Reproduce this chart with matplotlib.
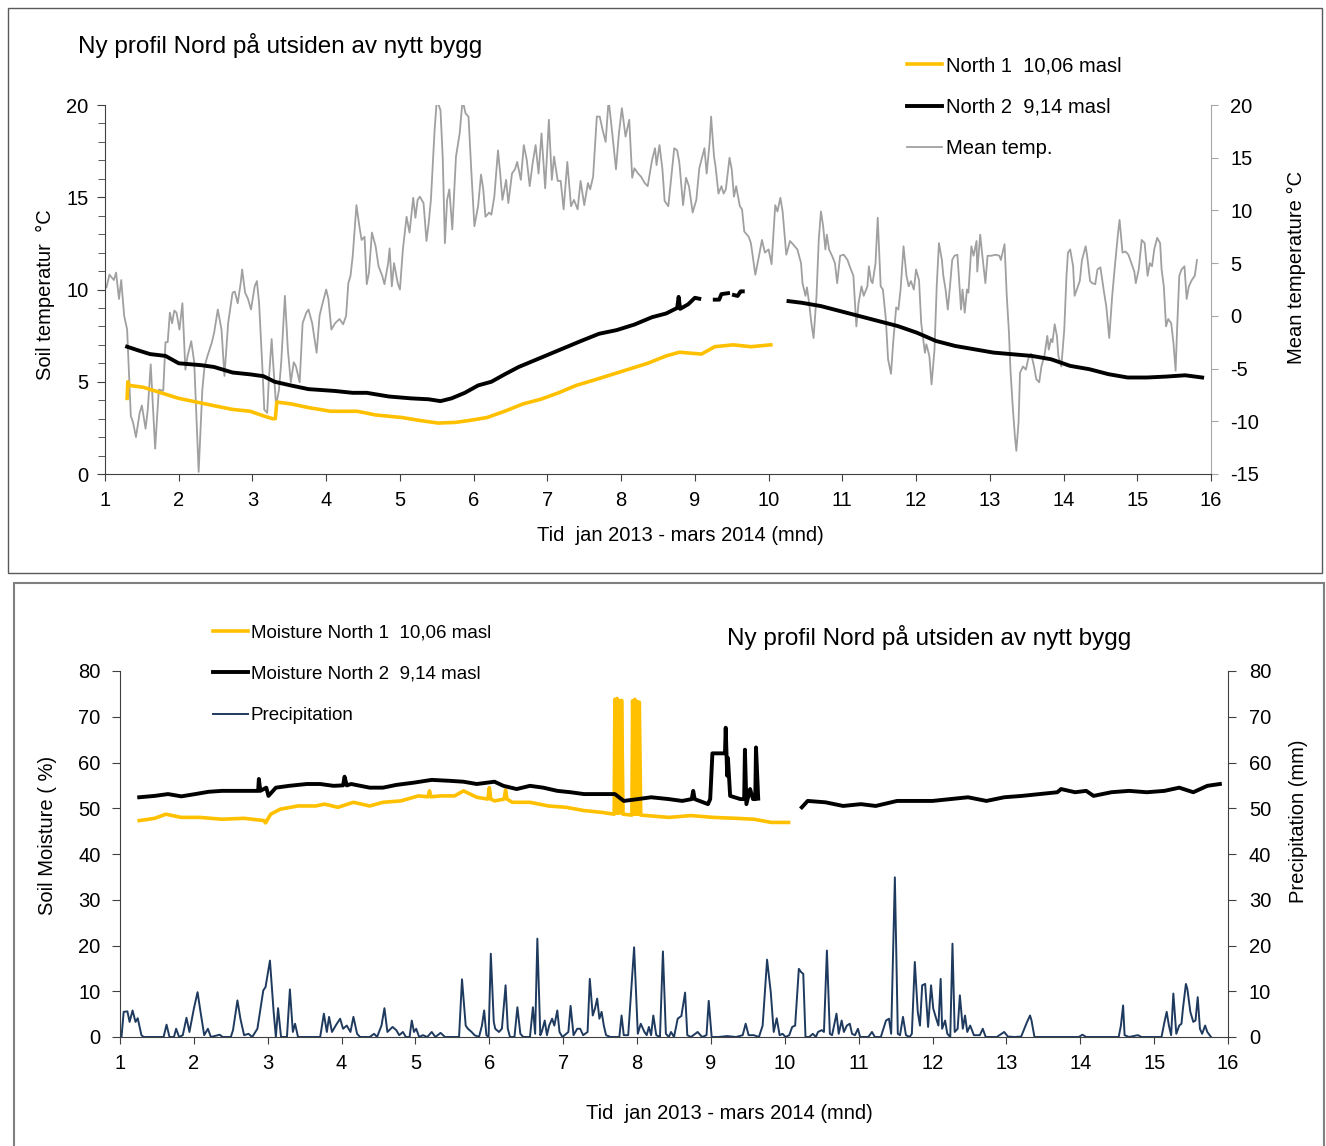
import matplotlib.pyplot as plt
from matplotlib.patches import Rectangle
from matplotlib.ticker import MultipleLocator
import numpy as np

plt.rcParams['font.family'] = ['Liberation Sans', 'DejaVu Sans']
plt.rcParams['axes.unicode_minus'] = False

FS = 14.5
YELLOW = '#FFC000'
GREY = '#A0A0A0'
NAVY = '#1F3A5F'
DARK = '#404040'

TITLE = 'Ny profil Nord på utsiden av nytt bygg'
XLABEL = 'Tid  jan 2013 - mars 2014 (mnd)'
gap = (np.nan, np.nan)

# month (1 = jan 2013), daily mean air temperature (deg C)
mean_temp = [
    (1.02, 2.7), (1.06, 3.9), (1.12, 3.4), (1.15, 4.1), (1.19, 1.6), (1.22, 3.4), (1.26, 0.0), (1.30, -1.3),
    (1.35, -9.5), (1.38, -10.1), (1.42, -11.5), (1.47, -9.2), (1.50, -8.5), (1.55, -10.7), (1.58, -8.9),
    (1.62, -4.6), (1.68, -12.6), (1.73, -7.0), (1.79, -7.1), (1.82, -2.5), (1.85, -2.5), (1.88, 0.3),
    (1.91, -0.7), (1.94, 0.5), (1.97, 0.3), (2.01, -1.3), (2.05, 1.2), (2.09, -5.1), (2.12, -3.8),
    (2.17, -2.4), (2.21, -4.4), (2.24, -9.5), (2.27, -14.8), (2.32, -7.0), (2.35, -4.8), (2.39, -3.8),
    (2.45, -2.5), (2.48, -1.6), (2.53, 0.6), (2.58, -1.3), (2.62, -5.7), (2.67, -0.7), (2.73, 2.2),
    (2.76, 2.3), (2.80, 1.2), (2.84, 3.1), (2.86, 4.4), (2.90, 2.2), (2.94, 1.6), (2.98, 0.6), (3.03, 2.8),
    (3.06, 3.3), (3.09, 1.2), (3.14, -5.7), (3.16, -8.9), (3.20, -9.2), (3.22, -6.3), (3.26, -2.2),
    (3.28, -4.4), (3.32, -8.5), (3.36, -7.0), (3.39, -4.4), (3.44, 1.9), (3.48, -3.2), (3.52, -6.3),
    (3.56, -4.4), (3.59, -4.8), (3.64, -6.3), (3.68, -0.7), (3.73, 0.3), (3.76, 0.6), (3.81, -0.7),
    (3.87, -3.5), (3.91, 0.0), (3.94, 0.9), (4.00, 2.5), (4.03, 1.6), (4.07, -1.3), (4.12, -0.7),
    (4.18, -0.3), (4.23, -0.8), (4.27, 0.0), (4.30, 3.1), (4.33, 3.8), (4.36, 5.7), (4.41, 10.5),
    (4.45, 8.5), (4.48, 7.2), (4.52, 7.5), (4.55, 3.0), (4.58, 4.1), (4.62, 7.9), (4.67, 6.6), (4.71, 4.7),
    (4.76, 3.8), (4.79, 3.0), (4.84, 5.0), (4.86, 6.4), (4.89, 2.8), (4.92, 5.0), (4.97, 3.1), (5.00, 2.5),
    (5.04, 6.3), (5.09, 9.4), (5.13, 7.9), (5.18, 11.2), (5.21, 9.3), (5.24, 11.0), (5.27, 11.3),
    (5.32, 10.7), (5.36, 7.1), (5.39, 8.8), (5.42, 11.0), (5.47, 17.6), (5.50, 20.5), (5.55, 19.5),
    (5.58, 15.1), (5.61, 6.9), (5.64, 11.0), (5.67, 12.0), (5.71, 8.2), (5.76, 15.1), (5.81, 17.3),
    (5.85, 20.5), (5.89, 19.2), (5.93, 18.9), (5.97, 13.5), (6.01, 8.5), (6.06, 10.4), (6.10, 13.4),
    (6.13, 12.0), (6.16, 9.4), (6.21, 9.8), (6.24, 9.6), (6.28, 11.3), (6.33, 15.7), (6.36, 13.5),
    (6.39, 11.0), (6.44, 12.9), (6.47, 10.7), (6.52, 13.5), (6.56, 13.9), (6.59, 14.6), (6.64, 12.9),
    (6.68, 16.2), (6.72, 14.8), (6.76, 12.3), (6.80, 14.5), (6.84, 16.2), (6.88, 13.5), (6.92, 17.3),
    (6.97, 12.1), (7.02, 18.6), (7.06, 12.9), (7.09, 15.1), (7.14, 12.8), (7.18, 12.8), (7.22, 10.1),
    (7.27, 14.6), (7.32, 10.4), (7.36, 11.0), (7.41, 10.1), (7.45, 12.8), (7.50, 10.5), (7.55, 12.6),
    (7.58, 12.0), (7.62, 13.2), (7.67, 18.9), (7.71, 18.9), (7.75, 17.6), (7.79, 16.5), (7.83, 20.5),
    (7.88, 17.3), (7.93, 13.9), (7.97, 17.3), (8.01, 19.7), (8.06, 17.0), (8.11, 18.6), (8.15, 13.1),
    (8.18, 14.0), (8.23, 13.5), (8.27, 13.2), (8.32, 12.6), (8.36, 12.3), (8.42, 14.8), (8.46, 15.9),
    (8.48, 14.3), (8.52, 16.2), (8.56, 13.9), (8.59, 10.9), (8.64, 10.4), (8.68, 13.2), (8.72, 15.9),
    (8.76, 15.7), (8.79, 14.5), (8.84, 10.5), (8.88, 13.1), (8.92, 12.3), (8.97, 9.8), (9.02, 11.0),
    (9.06, 14.0), (9.10, 15.1), (9.13, 15.9), (9.16, 13.5), (9.20, 16.4), (9.22, 18.9), (9.26, 15.1),
    (9.28, 14.2), (9.32, 11.6), (9.36, 12.3), (9.39, 11.6), (9.42, 12.0), (9.47, 15.0), (9.50, 13.9),
    (9.53, 11.3), (9.56, 12.3), (9.61, 10.4), (9.64, 10.1), (9.67, 8.0), (9.73, 7.5), (9.76, 6.9),
    (9.82, 3.9), (9.87, 5.7), (9.91, 7.2), (9.95, 6.0), (10.00, 6.3), (10.04, 4.9), (10.09, 10.5),
    (10.12, 9.9), (10.16, 11.2), (10.19, 9.9), (10.24, 5.8), (10.29, 7.1), (10.33, 6.8), (10.39, 6.3),
    (10.44, 5.0), (10.46, 3.1), (10.50, 1.9), (10.52, 2.7), (10.55, 1.2), (10.58, -0.7), (10.61, -2.1),
    (10.65, 1.9), (10.68, 7.2), (10.71, 9.9), (10.74, 8.5), (10.77, 6.3), (10.79, 7.7), (10.82, 6.3),
    (10.86, 5.7), (10.90, 5.0), (10.93, 3.1), (10.97, 5.7), (11.02, 5.8), (11.07, 5.3), (11.10, 4.7),
    (11.15, 3.8), (11.19, -1.0), (11.22, 1.2), (11.26, 2.8), (11.29, 1.9), (11.34, 2.8), (11.36, 4.7),
    (11.39, 3.3), (11.41, 3.1), (11.45, 5.0), (11.48, 9.3), (11.52, 2.8), (11.55, 2.5), (11.59, -0.3),
    (11.62, -4.1), (11.66, -5.5), (11.69, -2.5), (11.73, 0.8), (11.76, 0.6), (11.79, 2.5), (11.83, 6.6),
    (11.87, 3.8), (11.90, 2.8), (11.93, 3.3), (11.97, 2.5), (12.00, 4.4), (12.04, 3.4), (12.07, -0.7),
    (12.12, -3.5), (12.14, -2.7), (12.18, -3.8), (12.21, -6.5), (12.25, -3.2), (12.28, 2.8), (12.31, 6.9),
    (12.35, 5.3), (12.37, 3.8), (12.40, 2.5), (12.43, 0.6), (12.46, 2.8), (12.49, 5.3), (12.52, 5.7),
    (12.56, 5.8), (12.58, 3.8), (12.61, 0.6), (12.63, 2.5), (12.66, 0.3), (12.69, 2.5), (12.71, 2.2),
    (12.75, 6.6), (12.78, 5.7), (12.82, 7.1), (12.83, 4.2), (12.87, 7.7), (12.89, 6.3), (12.94, 3.1),
    (12.97, 5.7), (13.02, 5.7), (13.08, 5.8), (13.13, 5.7), (13.15, 5.3), (13.20, 6.8), (13.23, 1.9),
    (13.26, -1.6), (13.28, -5.1), (13.31, -8.5), (13.34, -11.4), (13.36, -12.8), (13.39, -10.1),
    (13.41, -5.4), (13.45, -4.8), (13.49, -5.1), (13.52, -4.1), (13.56, -3.6), (13.60, -4.8), (13.63, -6.0),
    (13.67, -6.3), (13.70, -4.8), (13.74, -3.8), (13.78, -1.9), (13.80, -3.2), (13.83, -2.2), (13.85, -2.5),
    (13.88, -0.8), (13.91, -1.9), (13.93, -3.8), (13.97, -4.8), (14.01, -1.3), (14.04, 3.8), (14.06, 6.0),
    (14.09, 6.3), (14.13, 4.7), (14.15, 1.9), (14.18, 2.5), (14.22, 3.3), (14.25, 5.3), (14.30, 6.6),
    (14.32, 5.7), (14.36, 3.3), (14.39, 3.1), (14.43, 3.0), (14.46, 4.4), (14.50, 4.6), (14.55, 2.2),
    (14.58, 0.9), (14.62, -2.1), (14.66, 1.9), (14.70, 5.0), (14.74, 7.9), (14.76, 9.1), (14.80, 6.0),
    (14.84, 6.1), (14.88, 5.8), (14.92, 5.0), (14.96, 4.2), (14.98, 3.1), (15.02, 4.4), (15.06, 7.2),
    (15.10, 6.9), (15.14, 3.8), (15.17, 5.0), (15.20, 4.7), (15.23, 6.3), (15.27, 7.4), (15.31, 6.9),
    (15.33, 4.4), (15.36, 2.8), (15.39, -1.0), (15.42, -0.3), (15.46, -0.7), (15.49, -2.5), (15.52, -5.2),
    (15.54, -1.3), (15.57, 3.8), (15.60, 4.4), (15.64, 4.7), (15.67, 1.6), (15.70, 2.8), (15.74, 3.4),
    (15.78, 3.8), (15.81, 5.3),
]

# soil temperature (deg C)
soil_north1 = [
    (1.30, 4.1), (1.31, 5.0), (1.33, 4.8), (1.52, 4.7), (1.76, 4.4), (2.00, 4.1), (2.24, 3.9), (2.48, 3.7),
    (2.73, 3.5), (2.97, 3.4), (3.15, 3.15), (3.27, 3.0), (3.31, 3.0), (3.33, 3.9), (3.52, 3.8), (3.76, 3.6),
    (4.06, 3.4), (4.42, 3.4), (4.67, 3.2), (5.03, 3.06), (5.27, 2.9), (5.52, 2.76), (5.76, 2.8), (5.94, 2.9),
    (6.18, 3.06), (6.42, 3.4), (6.67, 3.8), (6.91, 4.05), (7.15, 4.4), (7.39, 4.8), (7.64, 5.1), (7.88, 5.4),
    (8.12, 5.7), (8.36, 6.0), (8.61, 6.4), (8.79, 6.6), (9.09, 6.5), (9.27, 6.9), (9.52, 7.0), (9.76, 6.9),
    (10.03, 7.0),
]
soil_north2 = [
    (1.30, 6.9), (1.45, 6.7), (1.61, 6.5), (1.82, 6.4), (2.00, 6.0), (2.30, 5.9), (2.48, 5.8), (2.73, 5.5),
    (2.97, 5.4), (3.15, 5.3), (3.30, 5.0), (3.52, 4.8), (3.76, 4.6), (4.12, 4.5), (4.36, 4.4), (4.55, 4.4),
    (4.85, 4.2), (5.15, 4.1), (5.39, 4.05), (5.55, 3.95), (5.70, 4.1), (5.88, 4.4), (6.06, 4.8), (6.24, 5.0),
    (6.42, 5.4), (6.61, 5.8), (6.79, 6.1), (6.97, 6.4), (7.21, 6.8), (7.45, 7.2), (7.70, 7.6), (7.94, 7.8),
    (8.18, 8.1), (8.42, 8.5), (8.61, 8.7), (8.76, 9.0), (8.78, 9.6), (8.80, 8.95), (8.91, 9.2), (9.00, 9.55),
    (9.06, 9.5), gap,
    (9.27, 9.45), (9.33, 9.45), (9.36, 9.75), (9.45, 9.8), gap,
    (9.53, 9.7), (9.58, 9.65), (9.62, 9.9), (9.65, 9.9), gap,
    (10.27, 9.37), (10.45, 9.28), (10.71, 9.1), (10.97, 8.83), (11.23, 8.56), (11.49, 8.29), (11.75, 8.02),
    (12.01, 7.66), (12.27, 7.21), (12.53, 6.94), (12.79, 6.76), (13.05, 6.58), (13.31, 6.49), (13.57, 6.40),
    (13.83, 6.22), (14.09, 5.86), (14.35, 5.68), (14.61, 5.41), (14.87, 5.23), (15.13, 5.23), (15.39, 5.28),
    (15.65, 5.35), (15.88, 5.23),
]

# soil moisture (%)
moist_north1 = [
    (1.26, 47.3), (1.47, 47.8), (1.62, 48.7), (1.83, 48.0), (2.08, 48.0), (2.38, 47.6), (2.68, 47.8),
    (2.95, 47.3), (2.97, 46.8), (3.04, 48.7), (3.17, 49.8), (3.41, 50.5), (3.65, 50.5), (3.77, 50.9),
    (3.95, 50.2), (4.16, 51.3), (4.38, 50.5), (4.56, 51.3), (4.80, 51.6), (5.04, 52.7), (5.17, 52.5),
    (5.19, 53.8), (5.21, 52.5), (5.34, 52.7), (5.53, 52.7), (5.65, 53.8), (5.83, 52.4), (5.98, 52.0),
    (6.00, 54.5), (6.02, 52.0), (6.07, 51.6), (6.20, 52.0), (6.22, 54.0), (6.24, 52.0), (6.31, 51.3),
    (6.55, 51.3), (6.80, 50.5), (7.04, 50.2), (7.28, 49.5), (7.52, 49.1), (7.69, 48.7), (7.70, 73.8),
    (7.72, 48.9), (7.73, 74.0), (7.75, 48.9), (7.76, 73.5), (7.78, 49.0), (7.79, 73.6), (7.81, 48.7),
    (7.93, 48.5), (7.94, 73.5), (7.96, 48.7), (7.97, 73.8), (7.99, 48.7), (8.00, 73.3), (8.02, 48.7),
    (8.03, 73.2), (8.05, 48.5), (8.13, 48.4), (8.43, 48.0), (8.73, 48.4), (9.03, 48.0), (9.34, 47.8),
    (9.58, 47.6), (9.82, 46.9), (10.05, 46.9),
]
moist_north2 = [
    (1.26, 52.4), (1.47, 52.7), (1.65, 53.1), (1.83, 52.6), (2.02, 53.1), (2.20, 53.6), (2.38, 53.8),
    (2.62, 53.8), (2.80, 53.8), (2.87, 53.8), (2.88, 56.4), (2.90, 53.8), (2.98, 54.5), (3.01, 52.7),
    (3.11, 54.5), (3.29, 54.9), (3.53, 55.3), (3.71, 55.3), (3.89, 54.9), (4.02, 55.0), (4.04, 56.9),
    (4.07, 55.0), (4.13, 55.3), (4.38, 54.5), (4.56, 54.5), (4.74, 55.1), (4.98, 55.6), (5.22, 56.2),
    (5.46, 56.0), (5.65, 55.8), (5.83, 55.3), (6.07, 55.8), (6.19, 54.9), (6.37, 54.2), (6.55, 54.9),
    (6.73, 54.5), (6.92, 53.8), (7.10, 53.5), (7.28, 53.1), (7.52, 53.1), (7.70, 53.1), (7.82, 51.6),
    (8.01, 52.0), (8.19, 52.4), (8.43, 52.0), (8.61, 51.6), (8.74, 52.0), (8.76, 53.8), (8.78, 52.0),
    (8.96, 50.9), (8.99, 52.0), (9.02, 62.0), (9.19, 62.0), (9.20, 67.6), (9.22, 57.1), (9.23, 61.0),
    (9.26, 52.7), (9.40, 52.0), (9.45, 52.0), (9.46, 62.8), (9.48, 50.9), (9.53, 54.2), (9.57, 52.0),
    (9.60, 52.0), (9.61, 63.3), (9.64, 52.1), gap,
    (10.23, 50.2), (10.31, 51.6), (10.55, 51.3), (10.79, 50.5), (11.03, 50.9), (11.23, 50.5), (11.52, 51.6),
    (11.76, 51.6), (12.00, 51.6), (12.24, 52.0), (12.48, 52.4), (12.73, 51.6), (12.97, 52.4), (13.21, 52.7),
    (13.45, 53.1), (13.69, 53.5), (13.74, 54.2), (13.93, 53.5), (14.08, 53.8), (14.18, 52.7), (14.42, 53.5),
    (14.66, 53.8), (14.90, 53.5), (15.14, 53.8), (15.34, 54.5), (15.53, 53.5), (15.72, 54.9), (15.89, 55.3),
]

# precipitation (mm)
precip = [
    (1.00, 0), (1.02, 0), (1.05, 5.5), (1.10, 5.6), (1.13, 3.3), (1.17, 5.8), (1.21, 3.3), (1.24, 4.1),
    (1.29, 0.4), (1.32, 0), (1.59, 0), (1.63, 2.7), (1.67, 0), (1.73, 0), (1.76, 1.8), (1.80, 0), (1.85, 0.4),
    (1.90, 4.2), (1.94, 1.1), (2.00, 6.2), (2.05, 9.8), (2.09, 5.5), (2.14, 0.4), (2.19, 1.8), (2.23, 0),
    (2.35, 0.5), (2.39, 0), (2.50, 0), (2.53, 1.5), (2.59, 8.0), (2.63, 4.0), (2.68, 0.4), (2.74, 0.7),
    (2.79, 0), (2.86, 1.8), (2.94, 10.2), (2.97, 10.9), (3.03, 16.7), (3.08, 5.5), (3.11, 0), (3.14, 6.3),
    (3.18, 0), (3.26, 0), (3.30, 10.4), (3.34, 1.1), (3.37, 2.9), (3.41, 0), (3.71, 0), (3.76, 5.1),
    (3.80, 1.1), (3.83, 4.4), (3.87, 1.1), (3.92, 2.5), (3.98, 4.0), (4.02, 1.8), (4.07, 2.5), (4.12, 1.1),
    (4.16, 4.4), (4.21, 0.7), (4.25, 0), (4.38, 0), (4.44, 0.7), (4.48, 0), (4.54, 2.5), (4.58, 6.3),
    (4.62, 1.1), (4.69, 2.2), (4.74, 1.5), (4.78, 0.4), (4.83, 1.1), (4.87, 0), (4.92, 0), (4.95, 3.6),
    (4.98, 1.1), (5.01, 1.8), (5.05, 0), (5.10, 0.4), (5.16, 0), (5.22, 1.1), (5.27, 0), (5.34, 0.9),
    (5.40, 0), (5.59, 0), (5.63, 12.6), (5.68, 2.5), (5.71, 1.8), (5.76, 1.1), (5.80, 0.4), (5.86, 0),
    (5.90, 2.5), (5.93, 5.8), (5.96, 0.4), (5.99, 0), (6.02, 18.2), (6.06, 3.3), (6.08, 1.8), (6.13, 1.1),
    (6.17, 1.8), (6.22, 11.3), (6.25, 1.8), (6.28, 0), (6.34, 0), (6.38, 6.5), (6.42, 0.7), (6.46, 0),
    (6.55, 0), (6.59, 6.5), (6.62, 0.7), (6.65, 21.5), (6.69, 0.4), (6.71, 1.1), (6.75, 3.6), (6.78, 0.4),
    (6.81, 2.5), (6.85, 4.0), (6.88, 2.5), (6.92, 5.8), (6.95, 1.1), (6.99, 0), (7.07, 1.1), (7.10, 6.8),
    (7.14, 0.4), (7.19, 1.8), (7.23, 1.8), (7.27, 0.4), (7.33, 1.1), (7.36, 12.7), (7.40, 4.7), (7.43, 6.2),
    (7.46, 8.4), (7.49, 4.0), (7.52, 5.5), (7.55, 2.5), (7.58, 0.4), (7.64, 0), (7.76, 0), (7.79, 4.7),
    (7.82, 0.4), (7.88, 0.4), (7.96, 19.6), (8.01, 0.7), (8.05, 2.9), (8.10, 1.1), (8.13, 0.4), (8.16, 2.2),
    (8.19, 0.4), (8.22, 4.7), (8.26, 0.4), (8.31, 0), (8.35, 18.7), (8.39, 0.7), (8.43, 0), (8.46, 1.1),
    (8.50, 0), (8.55, 4.0), (8.60, 4.6), (8.65, 9.7), (8.68, 0.4), (8.73, 0), (8.82, 1.1), (8.88, 0),
    (8.94, 0.4), (8.97, 7.9), (9.01, 0), (9.10, 0), (9.22, 0.2), (9.34, 0), (9.43, 0.4), (9.47, 2.9),
    (9.51, 0.4), (9.58, 0.4), (9.65, 0), (9.70, 2.5), (9.76, 16.9), (9.81, 9.8), (9.85, 1.1), (9.89, 4.1),
    (9.93, 0.4), (9.97, 0.7), (10.01, 0), (10.06, 0.4), (10.10, 2.2), (10.14, 2.5), (10.19, 14.9),
    (10.22, 14.2), (10.25, 13.8), (10.28, 0), (10.33, 0), (10.38, 0.7), (10.42, 0), (10.45, 1.1),
    (10.50, 1.5), (10.53, 1.1), (10.57, 18.9), (10.61, 0.7), (10.64, 0.4), (10.70, 5.1), (10.73, 0.7),
    (10.77, 3.6), (10.80, 1.1), (10.84, 2.5), (10.88, 2.9), (10.91, 0.7), (10.95, 0.4), (10.99, 1.8),
    (11.02, 0), (11.13, 0), (11.18, 1.1), (11.22, 0), (11.30, 0), (11.37, 3.6), (11.41, 4.0), (11.44, 0.7),
    (11.49, 34.9), (11.53, 0.7), (11.56, 0.4), (11.60, 4.4), (11.64, 0.4), (11.69, 0), (11.72, 0.7),
    (11.76, 16.4), (11.80, 5.5), (11.83, 2.5), (11.86, 11.3), (11.90, 11.6), (11.94, 2.2), (11.98, 11.3),
    (12.01, 6.2), (12.05, 4.0), (12.08, 2.5), (12.11, 12.7), (12.13, 1.8), (12.17, 3.6), (12.20, 0.7),
    (12.24, 0), (12.27, 20.4), (12.30, 1.1), (12.34, 1.8), (12.37, 9.1), (12.41, 1.8), (12.44, 4.7),
    (12.47, 1.1), (12.51, 2.5), (12.56, 0.4), (12.64, 0.4), (12.68, 1.8), (12.72, 0), (12.87, 0),
    (12.97, 1.1), (13.02, 0.1), (13.11, 0), (13.20, 0.1), (13.28, 3.3), (13.32, 4.7), (13.34, 3.6),
    (13.38, 0), (13.98, 0), (14.03, 0.5), (14.08, 0), (14.52, 0), (14.55, 2.5), (14.58, 6.9), (14.60, 0.4),
    (14.66, 0), (14.78, 0.4), (14.83, 0), (15.10, 0), (15.14, 3.3), (15.17, 5.5), (15.20, 2.5), (15.23, 0.4),
    (15.26, 9.5), (15.30, 0.7), (15.34, 2.5), (15.37, 2.9), (15.39, 6.2), (15.43, 11.6), (15.45, 10.5),
    (15.49, 5.5), (15.53, 3.3), (15.56, 3.6), (15.59, 8.7), (15.62, 1.8), (15.65, 0.7), (15.69, 2.5),
    (15.72, 1.1), (15.77, 0),
]


def xy(pts):
    a = np.array(pts, dtype=float)
    return a[:, 0], a[:, 1]


W, H = 1326, 1146
fig = plt.figure(figsize=(W / 100, H / 100), dpi=100)

# panel frames
fig.patches.append(Rectangle((8 / W, 1 - 573 / H), 1314 / W, 565 / H, transform=fig.transFigure,
                             fill=False, ec='#595959', lw=1.0))
fig.patches.append(Rectangle((14 / W, -0.01), 1310 / W, 1 - 583 / H + 0.01, transform=fig.transFigure,
                             fill=False, ec='#7f7f7f', lw=1.5))

# ---------------- top: soil temperature ----------------
ax = fig.add_axes([105 / W, 1 - 474 / H, 1106 / W, 369 / H])
ax2 = ax.twinx()
ax.set_zorder(ax2.get_zorder() + 1)
ax.patch.set_visible(False)

x, y = xy(mean_temp)
l3, = ax2.plot(x, y, color=GREY, lw=1.3, label='Mean temp.')
x, y = xy(soil_north1)
l1, = ax.plot(x, y, color=YELLOW, lw=2.6, label='North 1  10,06 masl')
x, y = xy(soil_north2)
l2, = ax.plot(x, y, color='black', lw=2.8, label='North 2  9,14 masl')

ax.set_xlim(1, 16)
ax.set_ylim(0, 20)
ax2.set_ylim(-15, 20)
ax.set_xticks(range(1, 17))
ax.yaxis.set_major_locator(MultipleLocator(5))
ax.yaxis.set_minor_locator(MultipleLocator(1))
ax2.yaxis.set_major_locator(MultipleLocator(5))
for s in ('top', 'right'):
    ax.spines[s].set_visible(False)
for s in ('top', 'left', 'bottom'):
    ax2.spines[s].set_visible(False)
ax.spines['left'].set_color(DARK)
ax.spines['bottom'].set_color(DARK)
ax2.spines['right'].set_color('#A6A6A6')
ax.tick_params(axis='x', labelsize=FS, length=5, pad=7, color=DARK)
ax.tick_params(axis='y', which='major', labelsize=FS, length=6, pad=6, color=DARK)
ax.tick_params(axis='y', which='minor', length=5, color=DARK)
ax2.tick_params(axis='y', labelsize=FS, length=5, pad=9, color='#A6A6A6')

ax.set_ylabel('Soil temperatur  °C', fontsize=FS)
ax.yaxis.set_label_coords(-0.045, 0.485)
ax2.set_ylabel('Mean temperature °C', fontsize=FS)
ax2.yaxis.set_label_coords(1.069, 0.56)
ax.set_xlabel(XLABEL, fontsize=FS)
ax.xaxis.set_label_coords(0.52, -0.141)

fig.text(78 / W, 1 - 45 / H, TITLE, fontsize=17.5, ha='left', va='center')
ax.legend(handles=[l1, l2, l3], loc='upper left', bbox_to_anchor=(907 / W, 1 - 56 / H),
          bbox_transform=fig.transFigure, frameon=False, borderpad=0, borderaxespad=0,
          handlelength=1.74, handletextpad=0.2, labelspacing=1.12, fontsize=FS)

# ---------------- bottom: soil moisture ----------------
bx = fig.add_axes([120 / W, 1 - 1037 / H, 1108 / W, 366 / H])
bx2 = bx.twinx()

x, y = xy(precip)
p3, = bx2.plot(x, y, color=NAVY, lw=1.4, label='Precipitation')
x, y = xy(moist_north1)
p1, = bx.plot(x, y, color=YELLOW, lw=2.6, label='Moisture North 1  10,06 masl')
x, y = xy(moist_north2)
p2, = bx.plot(x, y, color='black', lw=2.8, label='Moisture North 2  9,14 masl')

bx.set_xlim(1, 16)
bx.set_ylim(0, 80)
bx2.set_ylim(0, 80)
bx.set_xticks(range(1, 17))
bx.yaxis.set_major_locator(MultipleLocator(10))
bx2.yaxis.set_major_locator(MultipleLocator(10))
for s in ('top', 'right'):
    bx.spines[s].set_visible(False)
for s in ('top', 'left', 'bottom'):
    bx2.spines[s].set_visible(False)
for a, s in ((bx, 'left'), (bx, 'bottom'), (bx2, 'right')):
    a.spines[s].set_color(DARK)
bx.tick_params(axis='x', labelsize=FS, length=5, pad=7, color=DARK)
bx.tick_params(axis='y', labelsize=FS, length=6, pad=8, color=DARK)
bx2.tick_params(axis='y', labelsize=FS, length=6, pad=9, color=DARK)

bx.set_ylabel('Soil Moisture ( %)', fontsize=FS)
bx.yaxis.set_label_coords(-0.057, 0.552)
bx2.set_ylabel('Precipitation (mm)', fontsize=FS)
bx2.yaxis.set_label_coords(1.055, 0.59)
bx.set_xlabel(XLABEL, fontsize=FS)
bx.xaxis.set_label_coords(0.55, -0.183)

fig.text(727 / W, 1 - 638 / H, TITLE, fontsize=17.5, ha='left', va='center')
bx2.legend(handles=[p1, p2, p3], loc='upper left', bbox_to_anchor=(213 / W, 1 - 624 / H),
           bbox_transform=fig.transFigure, frameon=False, borderpad=0, borderaxespad=0,
           handlelength=1.85, handletextpad=0.15, labelspacing=1.3, fontsize=13.5)

fig.savefig('out.png', dpi=100, facecolor='white')
